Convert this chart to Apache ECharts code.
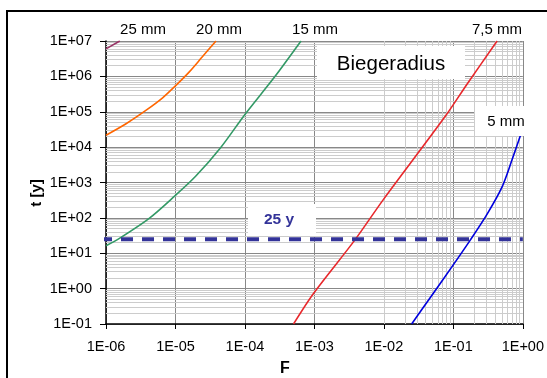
<!DOCTYPE html>
<html><head><meta charset="utf-8">
<script src="https://cdn.jsdelivr.net/npm/echarts@6/dist/echarts.min.js"></script>
<style>html,body{margin:0;padding:0;background:#fff}#c{width:547px;height:378px}</style>
</head><body><div id="c"></div>
<script>
// Data (F vs t[y]) per bending radius
const F_25mm = [1e-6, 1.58e-6];
const t_25mm = [6.0e6, 1e7];
const F_20mm = [1e-6, 1.97e-6, 3.79e-6, 6.53e-6, 9.9e-6, 1.57e-5, 2.42e-5, 3.83e-5];
const t_20mm = [2.17e4, 4.67e4, 1.11e5, 2.48e5, 5.31e5, 1.32e6, 3.52e6, 1e7];
const F_15mm = [1e-6, 1.58e-6, 4.23e-6, 9.9e-6, 1.95e-5, 4.43e-5, 1.0e-4, 2.68e-4, 6.41e-4];
const t_15mm = [16.3, 26.8, 98.6, 426, 1500, 9480, 8.4e4, 9.7e5, 1e7];
const F_7_5mm = [5.0e-4, 9.7e-4, 3.81e-3, 9.7e-3, 0.0769, 0.158, 0.426];
const t_7_5mm = [0.1, 0.73, 23.5, 318, 7.55e4, 6.1e5, 1e7];
const F_5mm = [0.0251, 0.0469, 0.0968, 0.175, 0.306, 0.501, 0.697, 0.877, 1];
const t_5mm = [0.1, 0.573, 4.32, 23.5, 128, 741, 4305, 1.58e4, 3.46e4];
const F_limit = [8.2e-7, 1];
const t_limit = [25, 25];
const curveLabels = ['25 mm', '20 mm', '15 mm', '7,5 mm', '5 mm'];
const limitLabel = '25 y';
const chartTitle = 'Biegeradius';
const xName = 'F';
const yName = 't [y]';
const xDecades = [-6, -5, -4, -3, -2, -1];
const yDecades = [-1, 0, 1, 2, 3, 4, 5, 6];

function zip(a, b) { return a.map((v, i) => [v, b[i]]); }
function fmt(v) {
  const e = Math.round(Math.log10(v));
  const s = e < 0 ? '-' : '+';
  const a = Math.abs(e);
  return '1E' + s + (a < 10 ? '0' + a : a);
}
const minorX = [], minorY = [];
xDecades.forEach(e => { for (let k = 2; k <= 9; k++) minorX.push({ xAxis: k * Math.pow(10, e) }); });
yDecades.forEach(e => { for (let k = 2; k <= 9; k++) minorY.push({ yAxis: k * Math.pow(10, e) }); });

const FONT = 'Liberation Sans';
const chart = echarts.init(document.getElementById('c'), null, { renderer: 'canvas' });
function line(name, F, t, color, w) {
  return {
    name, type: 'line', data: zip(F, t), symbol: 'none', smooth: 0.3, z: 3,
    lineStyle: { color, width: w || 1.6 }
  };
}
function label(text, x, y, size, weight, color, rot) {
  const o = { type: 'text', x, y, z: 51, style: { text, fontSize: size, fontFamily: FONT, fontWeight: weight || 'normal', fill: color || '#000', align: 'center', verticalAlign: 'middle' } };
  if (rot) o.rotation = rot;
  return o;
}
chart.setOption({
  animation: false,
  backgroundColor: '#fff',
  grid: { left: 106, top: 41, width: 420, height: 283, containLabel: false },
  xAxis: {
    type: 'log', logBase: 10, min: 1e-6, max: 1,
    axisLine: { show: true, lineStyle: { color: '#000', width: 1.5 } },
    axisTick: { show: true, length: 5, lineStyle: { color: '#000' } },
    axisLabel: { formatter: fmt, fontFamily: FONT, fontSize: 14.5, color: '#000', margin: 15 },
    splitLine: { show: true, lineStyle: { color: '#888', width: 1 } }
  },
  yAxis: {
    type: 'log', logBase: 10, min: 0.1, max: 1e7,
    axisLine: { show: true, lineStyle: { color: '#000', width: 1.5 } },
    axisTick: { show: true, length: 6, lineStyle: { color: '#000' } },
    axisLabel: { formatter: fmt, fontFamily: FONT, fontSize: 14.5, color: '#000', margin: 14 },
    splitLine: { show: true, lineStyle: { color: '#888', width: 1 } }
  },
  series: [
    {
      name: 'grid', type: 'line', data: [], z: 1, silent: true,
      markLine: {
        z: 1, silent: true, symbol: 'none', label: { show: false }, animation: false,
        lineStyle: { color: '#cccccc', width: 1, type: 'solid' },
        data: minorX.concat(minorY)
      }
    },
    line('25 mm', F_25mm, t_25mm, '#993366'),
    line('20 mm', F_20mm, t_20mm, '#ff6600'),
    line('15 mm', F_15mm, t_15mm, '#339966'),
    line('7,5 mm', F_7_5mm, t_7_5mm, '#e8282c'),
    line('5 mm', F_5mm, t_5mm, '#0000dd'),
    {
      name: '25 y', type: 'line', data: zip(F_limit, t_limit), symbol: 'none', clip: false, z: 4,
      lineStyle: { color: '#333399', width: 4, type: [12, 9] }
    }
  ],
  graphic: [
    { type: 'rect', shape: { x: 7, y: 11, width: 600, height: 400 }, style: { fill: 'none', stroke: '#000', lineWidth: 2 }, z: 100 },
    { type: 'rect', shape: { x: 317, y: 46, width: 148, height: 33 }, style: { fill: '#fff' }, z: 50 },
    label(chartTitle, 391, 64, 20.5),
    { type: 'rect', shape: { x: 475, y: 106, width: 60, height: 30 }, style: { fill: '#fff' }, z: 50 },
    label(curveLabels[4], 506, 122, 15),
    { type: 'rect', shape: { x: 248, y: 204, width: 68, height: 32 }, style: { fill: '#fff' }, z: 50 },
    label(limitLabel, 279, 220, 15.5, 'bold', '#333399'),
    label(curveLabels[0], 143, 30, 15),
    label(curveLabels[1], 219, 30, 15),
    label(curveLabels[2], 315, 30, 15),
    label(curveLabels[3], 497, 30, 15),
    label(yName, 37, 193, 15, 'bold', '#000', Math.PI / 2),
    label(xName, 285, 369, 16, 'bold')
  ]
});
</script></body></html>
